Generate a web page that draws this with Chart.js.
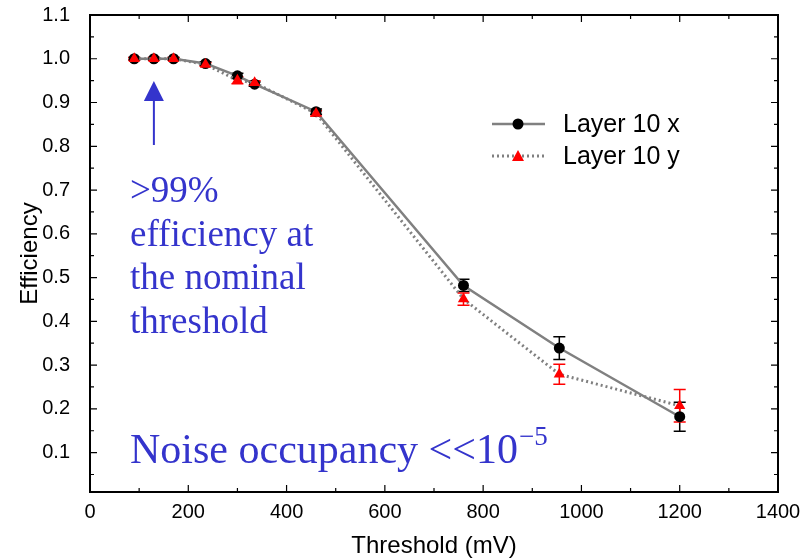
<!DOCTYPE html>
<html>
<head>
<meta charset="utf-8">
<script src="https://cdn.jsdelivr.net/npm/chart.js@4.4.0/dist/chart.umd.min.js"></script>
<style>
  body { margin: 0; background: #fff; }
  canvas { display: block; }
</style>
</head>
<body>
<canvas id="myChart" width="808" height="558"></canvas>
<script>
// thresholds (mV) shared by both layers
const thresholds = [90, 130, 170, 235, 300, 335, 460, 760, 955, 1200];
// Layer 10 x
const effX = [1.0, 1.0, 1.0, 0.989, 0.961, 0.942, 0.879, 0.482, 0.339, 0.182];
const errX = [0.003, 0.003, 0.003, 0.004, 0.006, 0.005, 0.006, 0.014, 0.026, 0.033];
// Layer 10 y
const effY = [1.0, 1.0, 1.0, 0.987, 0.951, 0.945, 0.875, 0.451, 0.279, 0.207];
const errY = [0.003, 0.003, 0.003, 0.004, 0.008, 0.005, 0.006, 0.014, 0.023, 0.037];
// axis ticks
const yTicks = [0.1, 0.2, 0.3, 0.4, 0.5, 0.6, 0.7, 0.8, 0.9, 1.0, 1.1];
const xTicks = [0, 200, 400, 600, 800, 1000, 1200, 1400];

const blue = '#3434cc';
const gray = '#808080';

function points(ys) {
    return thresholds.map((x, i) => ({ x: x, y: ys[i] }));
}

// error bars, drawn under the markers
const errorBars = {
    id: 'errorBars',
    beforeDatasetsDraw(chart) {
        const ctx = chart.ctx;
        const xs = chart.scales.x, ys = chart.scales.y;
        const sets = [[effX, errX, '#000000'], [effY, errY, '#ff0000']];
        ctx.save();
        ctx.lineWidth = 1.5;
        sets.forEach(([vals, errs, col]) => {
            ctx.strokeStyle = col;
            thresholds.forEach((t, i) => {
                const px = xs.getPixelForValue(t);
                const top = ys.getPixelForValue(vals[i] + errs[i]);
                const bot = ys.getPixelForValue(vals[i] - errs[i]);
                ctx.beginPath();
                ctx.moveTo(px, top); ctx.lineTo(px, bot);
                ctx.moveTo(px - 6, top); ctx.lineTo(px + 6, top);
                ctx.moveTo(px - 6, bot); ctx.lineTo(px + 6, bot);
                ctx.stroke();
            });
        });
        ctx.restore();
    }
};

// frame with inward ticks on all sides, legend and annotations
const frameAndText = {
    id: 'frameAndText',
    afterDraw(chart) {
        const ctx = chart.ctx;
        const a = chart.chartArea;
        const xs = chart.scales.x, ys = chart.scales.y;
        ctx.save();
        ctx.strokeStyle = '#000';
        ctx.lineWidth = 2;
        ctx.strokeRect(a.left, a.top, a.right - a.left, a.bottom - a.top);

        ctx.lineWidth = 1.2;
        ctx.beginPath();
        xTicks.forEach((v, i) => {
            const px = xs.getPixelForValue(v);
            ctx.moveTo(px, a.bottom); ctx.lineTo(px, a.bottom - 7);
            ctx.moveTo(px, a.top); ctx.lineTo(px, a.top + 7);
            if (i < xTicks.length - 1) {
                const pm = xs.getPixelForValue((v + xTicks[i + 1]) / 2);
                ctx.moveTo(pm, a.bottom); ctx.lineTo(pm, a.bottom - 4);
                ctx.moveTo(pm, a.top); ctx.lineTo(pm, a.top + 4);
            }
        });
        yTicks.forEach((v, i) => {
            const py = ys.getPixelForValue(v);
            ctx.moveTo(a.left, py); ctx.lineTo(a.left + 7, py);
            ctx.moveTo(a.right, py); ctx.lineTo(a.right - 7, py);
            const pm = ys.getPixelForValue(v - 0.05);
            ctx.moveTo(a.left, pm); ctx.lineTo(a.left + 4, pm);
            ctx.moveTo(a.right, pm); ctx.lineTo(a.right - 4, pm);
        });
        ctx.stroke();

        // legend
        const items = [
            { label: 'Layer 10 x', y: 124, dash: [], width: 2.5, style: 'circle', col: '#000' },
            { label: 'Layer 10 y', y: 156, dash: [2, 3], width: 3, style: 'triangle', col: '#ff0000' }
        ];
        items.forEach(it => {
            ctx.strokeStyle = gray;
            ctx.lineWidth = it.width;
            ctx.setLineDash(it.dash);
            ctx.beginPath();
            ctx.moveTo(492, it.y); ctx.lineTo(545, it.y);
            ctx.stroke();
            ctx.setLineDash([]);
            ctx.fillStyle = it.col;
            ctx.beginPath();
            if (it.style === 'circle') {
                ctx.arc(518, it.y, 5.5, 0, Math.PI * 2);
            } else {
                ctx.moveTo(518, it.y - 6); ctx.lineTo(524, it.y + 5); ctx.lineTo(512, it.y + 5);
                ctx.closePath();
            }
            ctx.fill();
            ctx.fillStyle = '#000';
            ctx.font = '25px "Liberation Sans", Arial, sans-serif';
            ctx.textBaseline = 'middle';
            ctx.textAlign = 'left';
            ctx.fillText(it.label, 563, it.y + 1);
        });

        // arrow at the nominal threshold
        const ax = xs.getPixelForValue(130);
        ctx.strokeStyle = blue;
        ctx.fillStyle = blue;
        ctx.lineWidth = 2;
        ctx.beginPath();
        ctx.moveTo(ax, 145); ctx.lineTo(ax, 100);
        ctx.stroke();
        ctx.beginPath();
        ctx.moveTo(ax, 81); ctx.lineTo(ax + 10, 101); ctx.lineTo(ax - 10, 101);
        ctx.closePath();
        ctx.fill();

        ctx.textBaseline = 'alphabetic';
        ctx.font = '37px "Liberation Serif", "Times New Roman", serif';
        ['>99%', 'efficiency at', 'the nominal', 'threshold'].forEach((s, i) => {
            ctx.fillText(s, 130, 202 + i * 43.7);
        });
        ctx.font = '42px "Liberation Serif", "Times New Roman", serif';
        const main = 'Noise occupancy <<10';
        ctx.fillText(main, 130, 463);
        const w = ctx.measureText(main).width;
        ctx.font = '27px "Liberation Serif", "Times New Roman", serif';
        ctx.fillText('\u22125', 130 + w + 1, 445);
        ctx.restore();
    }
};

const ctx = document.getElementById('myChart');
new Chart(ctx, {
    type: 'line',
    data: {
        datasets: [{
            label: 'Layer 10 y',
            data: points(effY),
            borderColor: gray,
            borderWidth: 3,
            borderDash: [2, 3],
            pointStyle: 'triangle',
            pointRadius: 6.5,
            pointBackgroundColor: '#ff0000',
            pointBorderWidth: 0,
            tension: 0
        }, {
            label: 'Layer 10 x',
            data: points(effX),
            borderColor: gray,
            borderWidth: 2.5,
            pointStyle: 'circle',
            pointRadius: 5.5,
            pointBackgroundColor: '#000000',
            pointBorderWidth: 0,
            tension: 0
        }]
    },
    options: {
        responsive: false,
        animation: false,
        layout: { padding: { top: 15, right: 30, left: 0, bottom: 0 } },
        plugins: {
            legend: { display: false },
            tooltip: { enabled: false }
        },
        scales: {
            x: {
                type: 'linear',
                min: 0,
                max: 1400,
                grid: { display: false },
                border: { display: false },
                afterBuildTicks: s => { s.ticks = xTicks.map(v => ({ value: v })); },
                afterFit: s => {
                    s.height = 66;
                    s.paddingLeft = 0; s.paddingRight = 0;
                },
                ticks: {
                    padding: 0,
                    maxRotation: 0,
                    color: '#000',
                    callback: v => String(v),
                    font: { family: '"Liberation Sans", Arial, sans-serif', size: 20 }
                },
                title: {
                    display: true,
                    text: 'Threshold (mV)',
                    color: '#000',
                    padding: 0,
                    font: { family: '"Liberation Sans", Arial, sans-serif', size: 24, lineHeight: 1 }
                }
            },
            y: {
                min: 0.01,
                max: 1.1,
                grid: { display: false },
                border: { display: false },
                afterBuildTicks: s => { s.ticks = yTicks.map(v => ({ value: v })); },
                afterFit: s => {
                    s.width = 90;
                    s.paddingTop = 0; s.paddingBottom = 0;
                },
                ticks: {
                    padding: 12,
                    color: '#000',
                    callback: v => v.toFixed(1),
                    font: { family: '"Liberation Sans", Arial, sans-serif', size: 20 }
                },
                title: {
                    display: true,
                    text: 'Efficiency',
                    color: '#000',
                    padding: { top: 18, bottom: 0 },
                    font: { family: '"Liberation Sans", Arial, sans-serif', size: 24, lineHeight: 1 }
                }
            }
        }
    },
    plugins: [errorBars, frameAndText]
});
</script>
</body>
</html>
